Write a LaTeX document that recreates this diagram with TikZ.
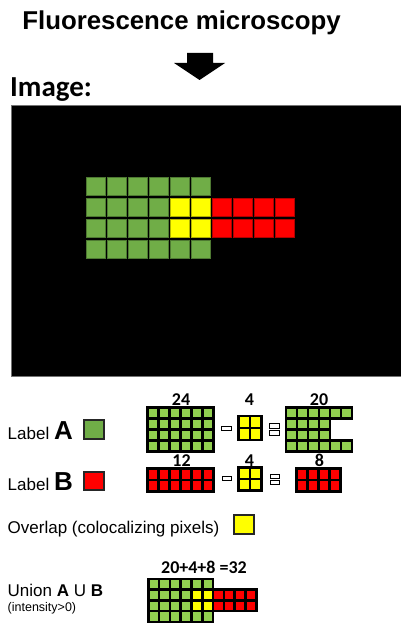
\documentclass[tikz,border=0pt]{standalone}
\usepackage{fontspec}
\setmainfont{Liberation Sans}
\newfontfamily\calibri{Carlito}
\definecolor{pixgreen}{HTML}{70AD47}
\definecolor{lightgreen}{HTML}{92D050}
\definecolor{pixred}{HTML}{FF0000}
\definecolor{pixyellow}{HTML}{FFFF00}
\tikzset{
  pix/.style={draw=#1!70!black, fill=#1, line width=0.8pt},
  cell/.style={draw=black, fill=#1, line width=2.5pt},
  swatch/.style={draw=black!85, fill=#1, line width=1.8pt},
  opbar/.style={draw=black, fill=white, line width=1pt},
  count/.style={font=\calibri\bfseries\fontsize{18}{20}\selectfont,
                anchor=base, inner sep=0pt},
  legend/.style={font=\fontsize{17}{20}\selectfont, anchor=base west, inner sep=0pt}
}

\begin{document}
\begin{tikzpicture}[x=1pt,y=-1pt]
    \useasboundingbox (0,0) rectangle (401,623);

    % Title and arrow
    \node[font=\bfseries\fontsize{25.8}{30}\selectfont, anchor=base, inner sep=0pt]
      (title) at (181.5,30) {Fluorescence microscopy};
    \fill (187,53) -- (213,53) -- (213,63) -- (225,63) -- (199.5,80)
      -- (174,63) -- (187,63) -- cycle;
    \node[font=\calibri\bfseries\fontsize{29}{32}\selectfont, anchor=base west, inner sep=0pt]
      (imglabel) at (10,97) {Image:};

    % Microscope image
    \draw[fill=black, draw=black!55, line width=0.8pt] (11,105) rectangle (402,376);
    \begin{scope}[shift={(86.7,177.3)}]
      \foreach \c in {0,...,5} \foreach \r in {0,3}
        \draw[pix=pixgreen] (\c*21,\r*21) rectangle ++(18.3,18.3);
      \foreach \c in {0,...,3} \foreach \r in {1,2}
        \draw[pix=pixgreen] (\c*21,\r*21) rectangle ++(18.3,18.3);
      \foreach \c in {4,5} \foreach \r in {1,2}
        \draw[pix=pixyellow] (\c*21,\r*21) rectangle ++(18.3,18.3);
      \foreach \c in {6,...,9} \foreach \r in {1,2}
        \draw[pix=pixred] (\c*21,\r*21) rectangle ++(18.3,18.3);
    \end{scope}

    % Label A
    \node[legend] (labA) at (7.5,439) {Label \fontsize{26}{28}\selectfont\bfseries A};
    \draw[swatch=pixgreen] (84,420) rectangle (104,439);
    \node[count] (cntA) at (181,405.5) {24};
    \begin{scope}[shift={(147.5,407.5)}]
      \foreach \c in {0,...,5} \foreach \r in {0,...,3}
        \draw[cell=lightgreen] (\c*11,\r*11) rectangle ++(11,11);
    \end{scope}
    \draw[opbar] (221,426.7) rectangle (231,430.7);
    \node[count] (cntYA) at (249.5,405.5) {4};
    \begin{scope}[shift={(238.5,416)}]
      \foreach \c in {0,1} \foreach \r in {0,1}
        \draw[cell=pixyellow] (\c*11.5,\r*12) rectangle ++(11.5,12);
    \end{scope}
    \draw[opbar] (269,423) rectangle (279,428);
    \draw[opbar] (269,430) rectangle (279,435);
    \node[count] (cntA2) at (319,405.5) {20};
    \begin{scope}[shift={(286,407.5)}]
      \foreach \c in {0,...,5} \foreach \r in {0,3}
        \draw[cell=lightgreen] (\c*11,\r*11) rectangle ++(11,11);
      \foreach \c in {0,...,3} \foreach \r in {1,2}
        \draw[cell=lightgreen] (\c*11,\r*11) rectangle ++(11,11);
    \end{scope}

    % Label B
    \node[legend] (labB) at (7.5,490) {Label \fontsize{26}{28}\selectfont\bfseries B};
    \draw[swatch=pixred] (84,472) rectangle (104,490);
    \node[count] (cntB) at (181.5,466.5) {12};
    \begin{scope}[shift={(147.5,468.5)}]
      \foreach \c in {0,...,5} \foreach \r in {0,1}
        \draw[cell=pixred] (\c*11,\r*11.5) rectangle ++(11,11.5);
    \end{scope}
    \draw[opbar] (222.7,476.7) rectangle (231.7,480.5);
    \node[count] (cntYB) at (249.5,466.5) {4};
    \begin{scope}[shift={(238.5,467.5)}]
      \foreach \c in {0,1} \foreach \r in {0,1}
        \draw[cell=pixyellow] (\c*11.5,\r*11.5) rectangle ++(11.5,11.5);
    \end{scope}
    \draw[opbar] (270,474) rectangle (279.3,478);
    \draw[opbar] (270,480) rectangle (279.3,484);
    \node[count] (cntB2) at (319.5,466.5) {8};
    \begin{scope}[shift={(296.5,468.5)}]
      \foreach \c in {0,...,3} \foreach \r in {0,1}
        \draw[cell=pixred] (\c*11,\r*11.5) rectangle ++(11,11.5);
    \end{scope}

    % Overlap
    \node[legend] (overlap) at (7.5,533.5) {Overlap (colocalizing pixels)};
    \draw[swatch=pixyellow] (234,515) rectangle (254,534);

    % Union
    \node[legend] (union) at (7.5,596) {Union \textbf{A} U \textbf{B}};
    \node[legend, font=\fontsize{12.5}{14}\selectfont] (intens) at (7.5,611) {(intensity>0)};
    \node[count] (cntU) at (204,573) {20+4+8 =32};
    \begin{scope}[shift={(148.3,579)}]
      \foreach \c in {0,...,5} \foreach \r in {0,3}
        \draw[cell=lightgreen] (\c*10.8,\r*10.7) rectangle ++(10.8,10.7);
      \foreach \c in {0,...,3} \foreach \r in {1,2}
        \draw[cell=lightgreen] (\c*10.8,\r*10.7) rectangle ++(10.8,10.7);
      \foreach \c in {4,5} \foreach \r in {1,2}
        \draw[cell=pixyellow] (\c*10.8,\r*10.7) rectangle ++(10.8,10.7);
      \foreach \c in {6,...,9} \foreach \r in {1,2}
        \draw[cell=pixred] (\c*10.8,\r*10.7) rectangle ++(10.8,10.7);
    \end{scope}
\end{tikzpicture}
\end{document}
